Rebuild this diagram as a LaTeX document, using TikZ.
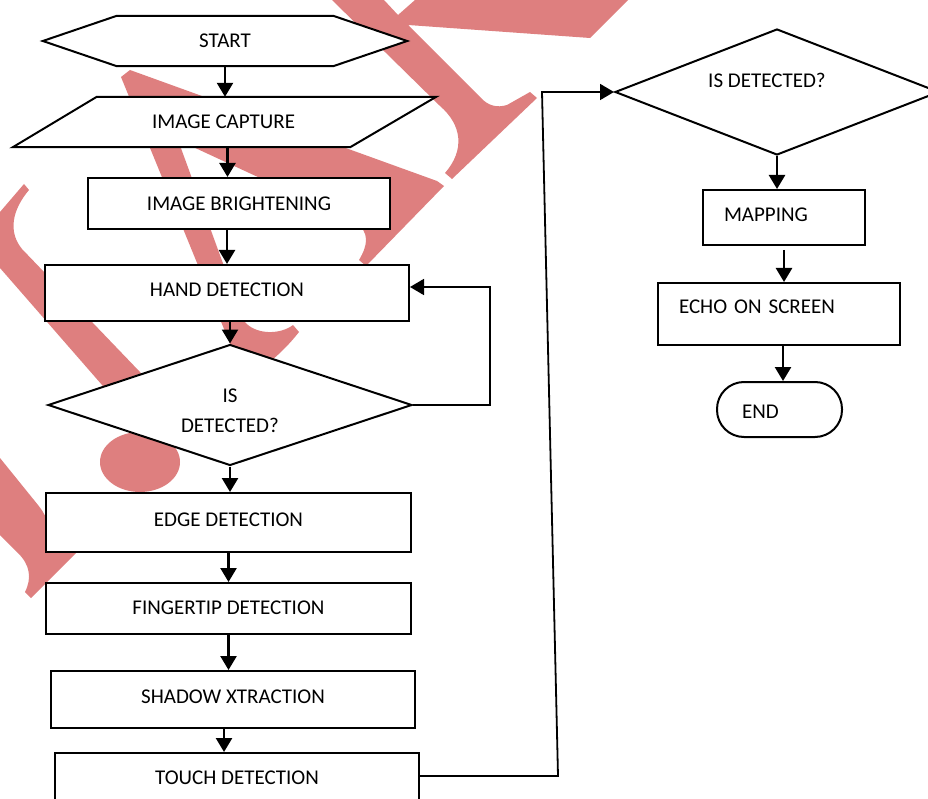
\documentclass[tikz,border=0pt]{standalone}
\usepackage{fontspec}
\setmainfont{Carlito}
\usetikzlibrary{arrows.meta,shapes.geometric}
\definecolor{wmark}{RGB}{222,127,127}
\pgfdeclarelayer{mark}
\pgfdeclarelayer{back}
\pgfsetlayers{mark,back,main}
\tikzset{
  lbl/.style={font=\fontsize{21}{30}\selectfont, inner sep=0pt, text height=14pt, text depth=7pt},
  outline/.style={draw=black, line width=2pt, fill=white},
  proc/.style={lbl, outline, rectangle},
  tagbox/.style={proc, align=left},
  stopbox/.style={tagbox, rounded corners=27pt},
  decide/.style={outline, diamond, font=\fontsize{21}{30}\selectfont, inner sep=0pt, align=center},
  arr/.style={-{Triangle[length=14pt,width=16pt]}, line width=2.5pt},
  link/.style={-{Triangle[length=14pt,width=16pt]}, line width=1.8pt},
  ink/.style={fill=wmark, draw=none}
}

\begin{document}
\begin{tikzpicture}[x=1pt,y=-1pt]
  \useasboundingbox (0,0) rectangle (928,799);

  % watermark behind everything
  \begin{pgfonlayer}{mark}
    \fill[ink] (332,0) -- (384,0) -- (398,15) -- (415,0) -- (628,0) -- (590,38) -- (408,25) -- (480,97)
      .. controls (488,106) and (497,108) .. (507,105) -- (530,92) -- (537,98) -- (452,179) -- (445,173)
      .. controls (465,150) and (462,125) .. (440,106) -- cycle;
    \fill[ink] (121,77) -- (130,70) -- (437,181) -- (444,186) -- (366,266) -- (359,260)
      .. controls (368,245) and (370,232) .. (355,222) -- (178,140) -- (244,321)
      .. controls (255,335) and (280,335) .. (293,325) -- (299,332)
      .. controls (285,350) and (270,362) .. (262,368) -- (240,368) -- cycle;
    \fill[ink] (0,212) -- (24,184) -- (29,190) .. controls (12,210) and (8,232) .. (22,249)
      -- (210,445) -- (150,440) -- (0,268) -- cycle;
    \fill[ink] (140,462) ellipse [x radius=40pt, y radius=30pt];
    \fill[ink] (0,458) -- (38,505) .. controls (52,522) and (52,540) .. (47,551) -- (76,553)
      -- (31,598) -- (25,592) .. controls (32,578) and (30,565) .. (18,553) -- (0,535) -- cycle;
  \end{pgfonlayer}

  % left column
  \node[lbl, text depth=0pt, minimum width=216pt, minimum height=50pt] (start) at (225,41) {START};
  \node[lbl, text depth=0pt, minimum width=253pt, minimum height=50pt] (capture) at (223.5,122) {IMAGE CAPTURE};
  \begin{pgfonlayer}{back}
    \draw[outline] (start.north west) -- (start.north east) -- ([xshift=74pt]start.east)
      -- (start.south east) -- (start.south west) -- ([xshift=-74pt]start.west) -- cycle;
    \draw[outline] (capture.north west) -- ([xshift=86pt]capture.north east)
      -- (capture.south east) -- ([xshift=-84pt]capture.south west) -- cycle;
  \end{pgfonlayer}
  \node[proc, text depth=0pt, minimum width=302pt, minimum height=51pt] (bright) at (239,203.5) {IMAGE BRIGHTENING};
  \node[proc, minimum width=364pt, minimum height=56pt] (hand) at (227,293) {HAND DETECTION};
  \node[decide, aspect=3, minimum width=364pt, minimum height=121pt] (check1) at (230,405) {\rule{0pt}{26pt}IS\\DETECTED?};
  \node[proc, minimum width=365pt, minimum height=59pt] (edge) at (228.5,522.5) {EDGE DETECTION};
  \node[proc, text depth=3pt, minimum width=365pt, minimum height=51pt] (finger) at (228.5,608.5) {FINGERTIP DETECTION};
  \node[proc, minimum width=364pt, minimum height=57pt] (shadow) at (233,699.5) {SHADOW XTRACTION};
  \node[proc, minimum width=364pt, minimum height=56pt] (touch) at (237,781) {TOUCH DETECTION};

  % right column
  \node[decide, aspect=2.57, minimum width=324pt, minimum height=126pt, text depth=24pt] (check2) at (777,92) {IS DETECTED?\hspace*{20pt}};
  \node[tagbox, text width=120pt, minimum width=162pt, minimum height=55pt, text depth=5.5pt] (mapping) at (784,217.5) {MAPPING};
  \node[tagbox, text width=200pt, minimum width=242pt, minimum height=62pt, text depth=14.5pt] (echo) at (779,314) {ECHO ON SCREEN};
  \node[stopbox, text width=75pt, minimum width=125pt, minimum height=55pt, text height=18.5pt, text depth=0pt] (finish) at (779.5,409.5) {END};

  % connectors
  \foreach \a/\b in {start/capture, check1/edge, finger/shadow, check2/mapping}
    \draw[arr] (\a.south) -- (\a.south |- \b.north);
  \draw[arr] ([xshift=4pt]capture.south) -- ([xshift=4pt]capture.south |- bright.north);
  \draw[arr] (hand.north |- bright.south) -- (hand.north);
  \draw[arr] (check1.north |- hand.south) -- (check1.north);
  \draw[link] (check1.east) -- ++(77,0) |- ([yshift=6pt]hand.east);
  \draw[arr] (edge.south) -- (finger.north);
  \draw[arr] ([xshift=-9pt]shadow.south) -- ([xshift=-9pt]shadow.south |- touch.north);
  \draw[link] ([yshift=5pt]touch.east) -- (558,776) -- (542,92) -- (check2.west);
  \draw[arr] ([yshift=-4pt]mapping.south) -- (mapping.south |- echo.north);
  \draw[arr] ([xshift=4pt]echo.south) -- ([xshift=4pt]echo.south |- finish.north);
\end{tikzpicture}
\end{document}
